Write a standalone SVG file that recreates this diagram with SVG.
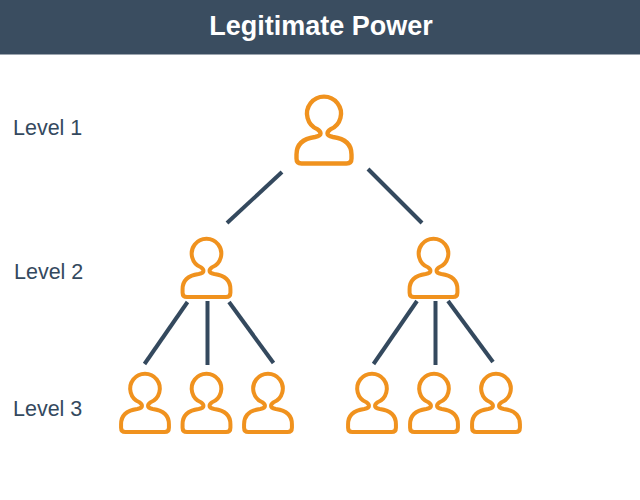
<svg xmlns="http://www.w3.org/2000/svg" width="640" height="500" viewBox="0 0 640 500">
<style>
.p{fill:none;stroke:#f0921e;stroke-linejoin:round}
.big{stroke-width:4.4}
.small{stroke-width:4.6}
.c line{stroke:#34495e;stroke-width:4}
.l{font:21.500px "Liberation Sans",Arial,sans-serif;fill:#34495e}
.t{font:bold 27px "Liberation Sans",Arial,sans-serif;fill:#fff;text-anchor:middle}
</style>
<defs>
<path id="person" d="M-6.500 15.800C-4.500 17-3.500 18-3.500 20C-3.500 21.500-5 22.800-9 23.500C-20 25-27.500 30-27.500 41V45Q-27.500 50-22.500 50H22.500Q27.500 50 27.500 45V41C27.500 30 20 25 9 23.500C5 22.800 3.500 21.500 3.500 20C3.500 18 4.500 17 6.500 15.800A17 17 0 1 0-6.500 15.800Z"/>
</defs>
<rect id="header" width="640" height="54.500" fill="#3a4d60"/>
<text class="t" x="321" y="35">Legitimate Power</text>
<text class="l" x="13" y="135">Level 1</text>
<text class="l" x="14" y="279">Level 2</text>
<text class="l" x="13" y="416">Level 3</text>
<g id="connectors" class="c">
<line x1="282" y1="172" x2="227" y2="223"/>
<line x1="368" y1="169" x2="422" y2="223"/>
<line x1="187.500" y1="302" x2="144.500" y2="364"/>
<line x1="207.500" y1="301" x2="207.500" y2="365"/>
<line x1="229" y1="302" x2="273.500" y2="363"/>
<line x1="417" y1="301" x2="373.500" y2="364"/>
<line x1="435.500" y1="301" x2="435.500" y2="365"/>
<line x1="448" y1="301" x2="493" y2="362"/>
</g>
<g id="n1"><use href="#person" class="p big" transform="translate(324 113.500)"/></g>
<g id="n2"><use href="#person" class="p small" transform="translate(206.500 253.500) scale(.87)"/></g>
<g id="n3"><use href="#person" class="p small" transform="translate(433.500 253.500) scale(.87)"/></g>
<g id="n4"><use href="#person" class="p small" transform="translate(145 388.500) scale(.87)"/></g>
<g id="n5"><use href="#person" class="p small" transform="translate(206.500 388.500) scale(.87)"/></g>
<g id="n6"><use href="#person" class="p small" transform="translate(268 388.500) scale(.87)"/></g>
<g id="n7"><use href="#person" class="p small" transform="translate(372 388.500) scale(.87)"/></g>
<g id="n8"><use href="#person" class="p small" transform="translate(434 388.500) scale(.87)"/></g>
<g id="n9"><use href="#person" class="p small" transform="translate(496 388.500) scale(.87)"/></g>
</svg>
